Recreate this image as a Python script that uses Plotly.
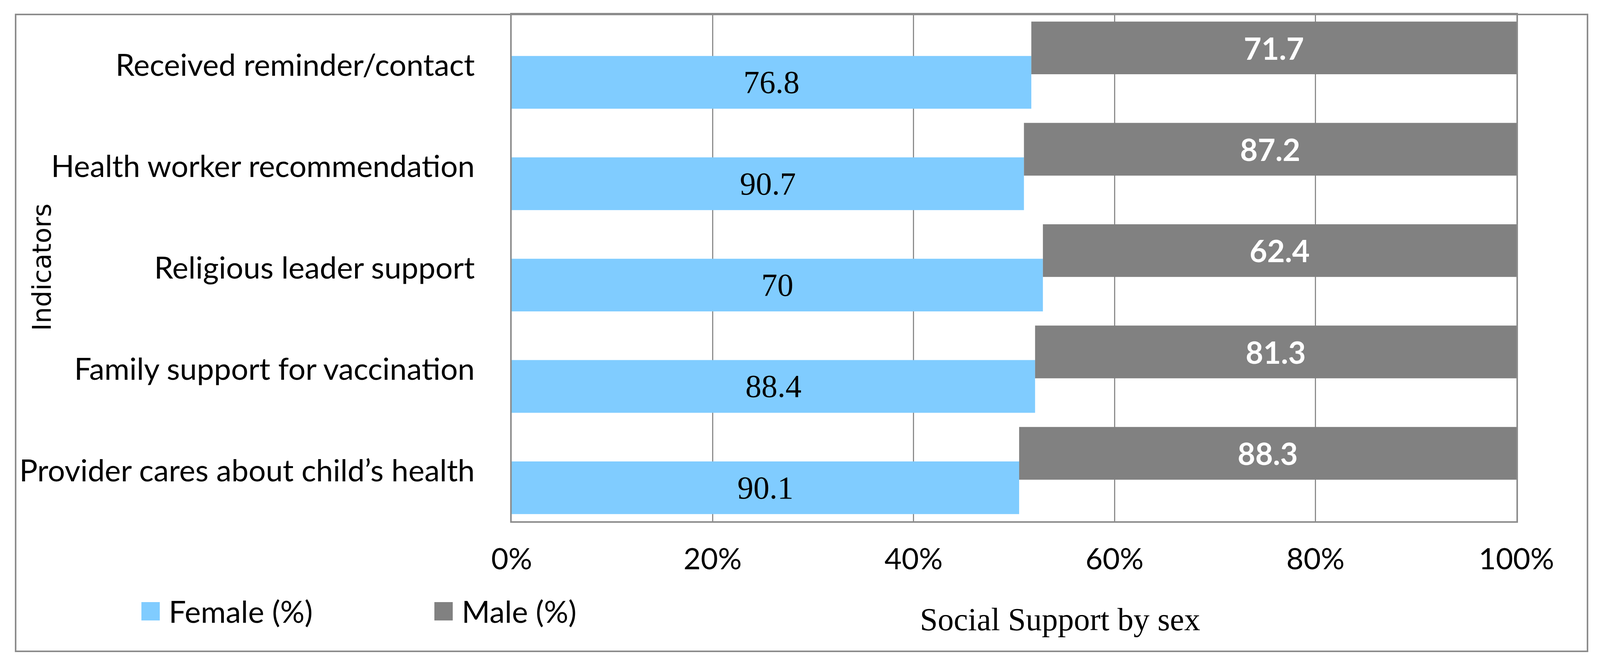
"""Social support by sex: 100% stacked horizontal bars, female vs male."""
import plotly.graph_objects as go

W, H = 4113, 1702

# data (top to bottom as in the chart)
indicators = [
    "Received reminder/contact",
    "Health worker recommendation",
    "Religious leader support",
    "Family support for vaccination",
    "Provider cares about child\u2019s health",
]
female_pct = [76.8, 90.7, 70, 88.4, 90.1]
male_pct = [71.7, 87.2, 62.4, 81.3, 88.3]
x_ticks = [0, 20, 40, 60, 80, 100]
series_names = ["Female (%)", "Male (%)"]

FEMALE_COLOR = "#80CCFF"
MALE_COLOR = "#818181"
GRID = "#8C8C8C"

# plot area in pixels
PL, PR, PT, PB = 1310, 3882, 37, 1334
pw, ph = PR - PL, PB - PT


def px_x(x):
    return (x - PL) / pw


def px_y(y):
    return (PB - y) / ph


# 100% stacked: each pair is rescaled to its own total
totals = [f + m for f, m in zip(female_pct, male_pct)]
female_share = [f / t * 100 for f, t in zip(female_pct, totals)]
male_share = [m / t * 100 for m, t in zip(male_pct, totals)]

fig = go.Figure()
fig.add_trace(go.Bar(
    y=indicators, x=female_share, base=0, orientation="h",
    name=series_names[0], marker=dict(color=FEMALE_COLOR, line=dict(width=0)),
    width=0.52, offset=-0.09,
    text=[f"{v:g}" for v in female_pct], textposition="inside",
    insidetextanchor="middle", textangle=0, constraintext="none",
    textfont=dict(family="Liberation Serif", size=82, color="black"),
    showlegend=False,
))
fig.add_trace(go.Bar(
    y=indicators, x=male_share, base=female_share, orientation="h",
    name=series_names[1], marker=dict(color=MALE_COLOR, line=dict(width=0)),
    width=0.52, offset=-0.43,
    text=[f"{v:g}" for v in male_pct], textposition="inside",
    insidetextanchor="middle", textangle=0, constraintext="none",
    textfont=dict(family="Lato", size=78, color="white", weight="bold"),
    showlegend=False,
))

fig.update_layout(
    width=W, height=H,
    margin=dict(l=PL, r=W - PR, t=PT, b=H - PB, pad=0),
    paper_bgcolor="white", plot_bgcolor="white",
    barmode="overlay",
    font=dict(family="Lato", color="black"),
    xaxis=dict(
        range=[0, 100], tickvals=x_ticks, ticktext=[f"{t}%" for t in x_ticks],
        showgrid=True, gridcolor=GRID, gridwidth=3, zeroline=False,
        showline=True, linecolor=GRID, linewidth=4, mirror=True,
        ticks="", ticklabelstandoff=28,
        tickfont=dict(family="Lato", size=76, color="black"),
    ),
    yaxis=dict(
        range=[4.5, -0.5], type="category",
        showgrid=False, zeroline=False,
        showline=True, linecolor=GRID, linewidth=4, mirror=True,
        ticks="", ticklabelstandoff=75,
        tickfont=dict(family="Lato", size=78, color="black"),
    ),
)

# chart frame
fig.add_shape(type="rect", xref="paper", yref="paper",
              x0=px_x(40), x1=px_x(4064), y0=px_y(1667), y1=px_y(37),
              line=dict(color=GRID, width=4), layer="below")

# legend drawn by hand so the swatches can be as big as in the original
legend_items = [(362, series_names[0], FEMALE_COLOR), (1112, series_names[1], MALE_COLOR)]
for lx, label, col in legend_items:
    fig.add_shape(type="rect", xref="paper", yref="paper",
                  x0=px_x(lx), x1=px_x(lx + 47), y0=px_y(1588), y1=px_y(1541),
                  fillcolor=col, line=dict(width=0))
    fig.add_annotation(xref="paper", yref="paper", x=px_x(lx + 68), y=px_y(1564),
                       xanchor="left", yanchor="middle", text=label, showarrow=False,
                       font=dict(family="Lato", size=78, color="black"))

# axis titles
fig.add_annotation(xref="paper", yref="paper", x=px_x(2713), y=px_y(1585),
                   xanchor="center", yanchor="middle", text="Social Support by sex",
                   showarrow=False,
                   font=dict(family="Liberation Serif", size=82, color="black"))
fig.add_annotation(xref="paper", yref="paper", x=px_x(107), y=px_y(684),
                   xanchor="center", yanchor="middle", text="Indicators",
                   textangle=-90, showarrow=False,
                   font=dict(family="DejaVu Sans", size=66, color="black"))

# drop the default body margin so the figure sits at the page origin
fig.write_html("out.html", config={"displayModeBar": False},
               post_script="document.body.style.margin='0';")
